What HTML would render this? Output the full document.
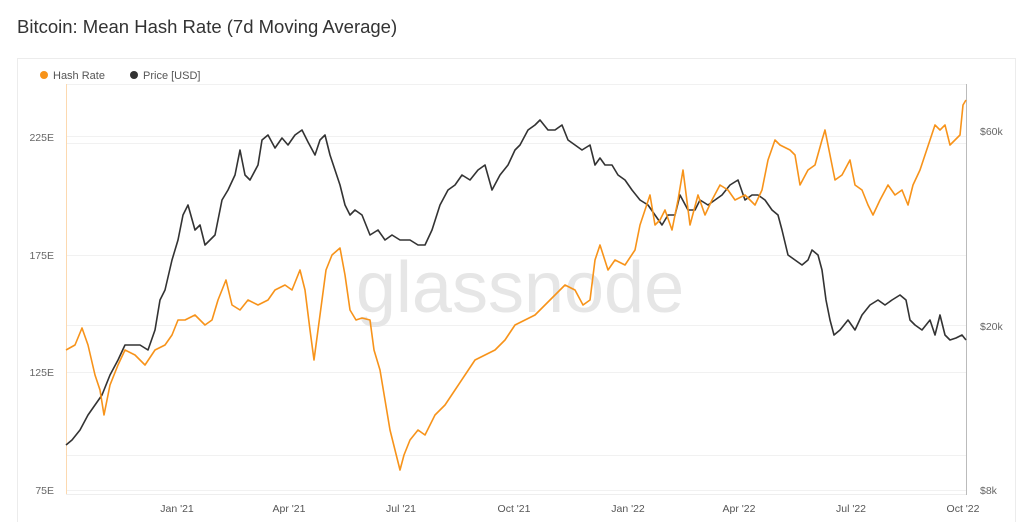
<!DOCTYPE html>
<html><head><meta charset="utf-8"><style>
body{margin:0;background:#fff;width:1024px;height:522px;overflow:hidden;font-family:"Liberation Sans",sans-serif}
</style></head><body>
<svg width="1024" height="522" xmlns="http://www.w3.org/2000/svg" font-family="Liberation Sans, sans-serif">
<text x="17" y="33" font-size="18.5" fill="#333">Bitcoin: Mean Hash Rate (7d Moving Average)</text>
<rect x="17.5" y="58.5" width="998" height="470" fill="#fff" stroke="#ececec"/>
<circle cx="44" cy="75" r="4" fill="#f7931a"/><text x="53" y="79" font-size="11" fill="#555">Hash Rate</text>
<circle cx="134" cy="75" r="4" fill="#333"/><text x="143" y="79" font-size="11" fill="#555">Price [USD]</text>
<g stroke="#f1f1f1" stroke-width="1">
<line x1="66" y1="143.5" x2="966" y2="143.5"/><line x1="66" y1="136.5" x2="966" y2="136.5"/>
<line x1="66" y1="255.5" x2="966" y2="255.5"/><line x1="66" y1="325.5" x2="966" y2="325.5"/>
<line x1="66" y1="372.5" x2="966" y2="372.5"/><line x1="66" y1="455.5" x2="966" y2="455.5"/>
<line x1="66" y1="490.5" x2="966" y2="490.5"/>
<line x1="66" y1="84.5" x2="966" y2="84.5"/>
</g>
<text x="520" y="312" font-size="72" fill="#e6e6e6" text-anchor="middle">glassnode</text>
<line x1="66.5" y1="84" x2="66.5" y2="495" stroke="#fcd9b0"/>
<line x1="966.5" y1="84" x2="966.5" y2="495" stroke="#bbb"/>
<line x1="66" y1="494.5" x2="966" y2="494.5" stroke="#eee"/>
<g font-size="10.5" fill="#666" text-anchor="end">
<text x="54" y="141">225E</text><text x="54" y="259">175E</text><text x="54" y="376">125E</text><text x="54" y="494">75E</text>
</g>
<g font-size="10.5" fill="#666">
<text x="980" y="135">$60k</text><text x="980" y="330">$20k</text><text x="980" y="494">$8k</text>
</g>
<g font-size="10.5" fill="#555" text-anchor="middle">
<text x="177" y="512">Jan '21</text><text x="289" y="512">Apr '21</text><text x="401" y="512">Jul '21</text><text x="514" y="512">Oct '21</text><text x="628" y="512">Jan '22</text><text x="739" y="512">Apr '22</text><text x="851" y="512">Jul '22</text><text x="963" y="512">Oct '22</text>
</g>
<polyline fill="none" stroke="#333" stroke-width="1.6" stroke-linejoin="round" points="66,445 72,440 80,430 88,415 95,405 102,395 110,375 118,360 125,345 132,345 140,345 148,350 155,330 160,300 165,290 172,260 178,240 183,215 188,205 195,230 200,225 205,245 210,240 215,235 222,200 228,190 235,175 240,150 245,175 250,180 258,165 262,140 268,135 275,148 282,138 288,145 295,135 302,130 308,142 315,155 320,140 325,135 330,155 340,185 345,205 350,215 355,210 362,215 370,235 378,230 385,240 392,235 400,240 410,240 418,245 425,245 432,230 440,205 448,190 455,185 462,175 470,180 478,170 485,165 492,190 500,175 508,165 515,150 520,145 528,130 535,125 540,120 548,130 555,130 562,125 568,140 575,145 582,150 590,145 595,165 600,158 605,165 612,165 618,175 625,180 632,190 640,200 648,205 655,215 662,225 668,215 675,215 680,195 688,210 695,210 700,200 708,205 715,200 722,195 730,185 738,180 745,200 752,195 758,195 765,200 772,210 778,215 782,230 788,255 795,260 802,265 808,260 812,250 818,255 822,270 826,300 830,320 834,335 840,330 848,320 855,330 862,315 870,305 878,300 885,305 892,300 900,295 906,300 910,320 915,325 922,330 930,320 935,335 940,315 945,335 950,340 956,338 962,335 966,340"/>
<polyline fill="none" stroke="#f7931a" stroke-width="1.6" stroke-linejoin="round" points="66,350 75,345 82,328 88,345 95,375 100,390 104,415 110,385 118,365 125,350 135,355 145,365 155,350 165,345 172,335 178,320 185,320 195,315 205,325 212,320 218,300 222,290 226,280 232,305 240,310 248,300 258,305 268,300 275,290 285,285 292,290 300,270 305,290 310,330 314,360 318,330 322,300 326,270 332,255 340,248 345,275 350,310 356,320 362,318 370,320 374,350 380,370 385,400 390,430 395,450 400,470 404,455 410,440 418,430 425,435 435,415 445,405 455,390 465,375 475,360 485,355 495,350 505,340 515,325 525,320 535,315 545,305 555,295 565,285 575,290 583,305 590,300 595,260 600,245 608,270 615,260 625,265 635,250 640,225 645,210 650,195 655,225 660,220 665,210 672,230 678,200 683,170 690,225 698,195 705,215 712,200 720,185 728,190 735,200 745,195 755,205 762,190 768,160 775,140 780,145 790,150 795,155 800,185 808,170 815,165 822,140 825,130 830,155 835,180 842,175 850,160 855,185 862,190 868,205 873,215 880,200 888,185 895,195 902,190 908,205 913,185 920,170 925,155 930,140 935,125 940,130 945,125 950,145 955,140 960,135 963,105 966,100"/>
</svg>
</body></html>
